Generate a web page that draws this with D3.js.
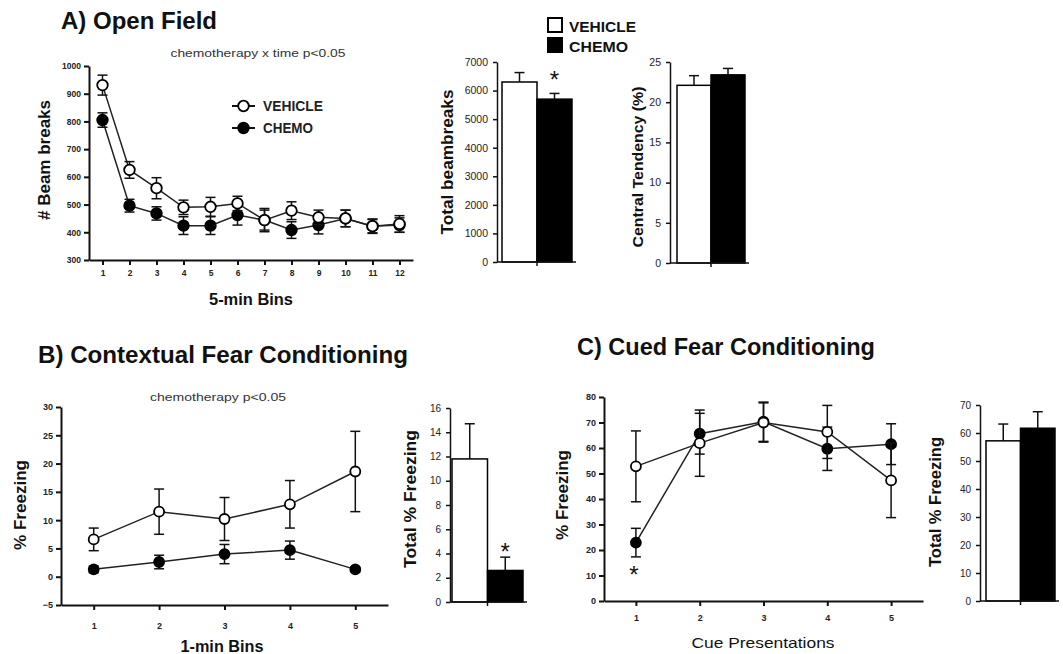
<!DOCTYPE html>
<html>
<head>
<meta charset="utf-8">
<script src="https://cdn.jsdelivr.net/npm/d3@7"></script>
<style>
    body { margin: 0; background: #fff; }
    svg { display: block; font-family: "Liberation Sans", Arial, sans-serif; }
</style>
</head>
<body>
<script>
//groups
var groups = ["VEHICLE", "CHEMO"];

//A) open field, beam breaks per 5-min bin
var ofBins = [1, 2, 3, 4, 5, 6, 7, 8, 9, 10, 11, 12];
var ofVehicle = [931, 625, 559, 490, 492, 504, 444, 478, 454, 450, 422, 430];
var ofVehicleSem = [36, 30, 38, 26, 34, 26, 42, 32, 26, 30, 26, 30];
var ofChemo = [805, 496, 468, 424, 424, 462, 444, 408, 426, 450, 422, 426];
var ofChemoSem = [26, 23, 24, 32, 32, 36, 36, 30, 32, 30, 24, 26];
var ofTicks = [300, 400, 500, 600, 700, 800, 900, 1000];

//A) totals
var totalBeam = [6300, 5700];
var totalBeamSem = [330, 200];
var totalBeamTicks = [0, 1000, 2000, 3000, 4000, 5000, 6000, 7000];
var centralTend = [22.1, 23.4];
var centralTendSem = [1.2, 0.8];
var centralTicks = [0, 5, 10, 15, 20, 25];

//B) contextual fear conditioning
var ctxBins = [1, 2, 3, 4, 5];
var ctxVehicle = [6.6, 11.5, 10.2, 12.8, 18.6];
var ctxVehicleSem = [2.0, 4.0, 3.8, 4.2, 7.1];
var ctxChemo = [1.3, 2.6, 4.0, 4.7, 1.3];
var ctxChemoSem = [0.6, 1.2, 1.7, 1.6, 0.4];
var ctxTicks = [-5, 0, 5, 10, 15, 20, 25, 30];
var ctxTotal = [11.8, 2.6];
var ctxTotalSem = [2.9, 1.1];
var ctxTotalTicks = [0, 2, 4, 6, 8, 10, 12, 14, 16];

//C) cued fear conditioning
var cueBins = [1, 2, 3, 4, 5];
var cueVehicle = [52.8, 61.9, 70.0, 66.3, 47.3];
var cueVehicleSem = [13.9, 13.0, 7.7, 10.4, 14.6];
var cueChemo = [22.9, 65.6, 70.3, 59.7, 61.5];
var cueChemoSem = [5.6, 8.0, 7.7, 8.5, 8.0];
var cueTicks = [0, 10, 20, 30, 40, 50, 60, 70, 80];
var cueTotal = [57.2, 61.7];
var cueTotalSem = [6.0, 5.9];
var cueTotalTicks = [0, 10, 20, 30, 40, 50, 60, 70];

var svg = d3.select("body").append("svg")
    .attr("width", 1063)
    .attr("height", 654);

svg.append("rect").attr("width", 1063).attr("height", 654).attr("fill", "#fff");

var fmt = d3.format("d");

//plain text helper
function label(x, y, txt, size, weight, opts){
    opts = opts || {};
    var t = svg.append("text")
        .attr("x", x).attr("y", y)
        .attr("font-size", size)
        .attr("font-weight", weight)
        .attr("fill", opts.fill || "#111")
        .attr("text-anchor", opts.anchor || "middle")
        .text(txt);
    if (opts.rotate) t.attr("transform", "rotate(-90," + x + "," + y + ")");
    if (opts.len) t.attr("textLength", opts.len).attr("lengthAdjust", "spacingAndGlyphs");
    return t;
}

function styleAxis(g, width, size, weight){
    g.attr("font-family", null).attr("font-size", size).attr("font-weight", weight);
    g.select(".domain").attr("stroke", "#111").attr("stroke-width", width);
    g.selectAll(".tick line").attr("stroke", "#111").attr("stroke-width", width);
    g.selectAll(".tick text").attr("fill", "#222");
}

//line chart with sem error bars
function lineChart(c){
    var x = d3.scaleLinear().domain(c.xDomain).range(c.xRange);
    var y = d3.scaleLinear().domain(c.yDomain).range(c.yRange);

    var ya = svg.append("g")
        .attr("transform", "translate(" + c.xRange[0] + ",0)")
        .call(d3.axisLeft(y).tickValues(c.yTicks).tickFormat(fmt)
            .tickSize(5).tickSizeOuter(0).tickPadding(3));
    styleAxis(ya, 2, c.tickSize, "bold");

    var xa = svg.append("g")
        .attr("transform", "translate(0," + c.yRange[0] + ")")
        .call(d3.axisBottom(x).tickValues(c.bins).tickFormat(fmt)
            .tickSize(5).tickSizeOuter(0).tickPadding(c.xPad));
    styleAxis(xa, 2, c.tickSize, "bold");

    c.series.forEach(function(s){
        var pts = c.bins.map(function(b, i){
            return {b: b, v: s.values[i], e: s.sem[i]};
        });
        var g = svg.append("g");

        g.append("path")
            .datum(pts)
            .attr("fill", "none")
            .attr("stroke", "#222")
            .attr("stroke-width", 1.5)
            .attr("d", d3.line().x(function(d){ return x(d.b); }).y(function(d){ return y(d.v); }));

        var eb = g.selectAll(".err")
            .data(pts)
            .enter()
            .append("g");
        eb.append("line")
            .attr("x1", function(d){ return x(d.b); })
            .attr("x2", function(d){ return x(d.b); })
            .attr("y1", function(d){ return y(d.v - d.e); })
            .attr("y2", function(d){ return y(d.v + d.e); })
            .attr("stroke", "#111").attr("stroke-width", 1.5);
        [-1, 1].forEach(function(sign){
            eb.append("line")
                .attr("x1", function(d){ return x(d.b) - 5; })
                .attr("x2", function(d){ return x(d.b) + 5; })
                .attr("y1", function(d){ return y(d.v + sign * d.e); })
                .attr("y2", function(d){ return y(d.v + sign * d.e); })
                .attr("stroke", "#111").attr("stroke-width", 1.5);
        });

        g.selectAll(".pt")
            .data(pts)
            .enter()
            .append("circle")
            .attr("cx", function(d){ return x(d.b); })
            .attr("cy", function(d){ return y(d.v); })
            .attr("r", c.r)
            .attr("fill", s.filled ? "#000" : "#fff")
            .attr("stroke", "#000")
            .attr("stroke-width", 1.8);
    });
    return {x: x, y: y};
}

//two-bar chart with one-sided sem
function barChart(c){
    var y = d3.scaleLinear().domain([0, c.max]).range(c.yRange);
    var xb = d3.scaleBand().domain(groups).range(c.barRange);

    var ya = svg.append("g")
        .attr("transform", "translate(" + c.axisX + ",0)")
        .call(d3.axisLeft(y).tickValues(c.ticks).tickFormat(fmt)
            .tickSize(4).tickSizeOuter(0).tickPadding(5));
    styleAxis(ya, 1.5, c.tickSize, "normal");

    svg.selectAll(null)
        .data(groups)
        .enter()
        .append("line")
        .attr("x1", function(d){ return xb(d) + xb.bandwidth() / 2; })
        .attr("x2", function(d){ return xb(d) + xb.bandwidth() / 2; })
        .attr("y1", function(d, i){ return y(c.values[i]); })
        .attr("y2", function(d, i){ return y(c.values[i] + c.sem[i]); })
        .attr("stroke", "#111").attr("stroke-width", 1.5);
    svg.selectAll(null)
        .data(groups)
        .enter()
        .append("line")
        .attr("x1", function(d){ return xb(d) + xb.bandwidth() / 2 - 5; })
        .attr("x2", function(d){ return xb(d) + xb.bandwidth() / 2 + 5; })
        .attr("y1", function(d, i){ return y(c.values[i] + c.sem[i]); })
        .attr("y2", function(d, i){ return y(c.values[i] + c.sem[i]); })
        .attr("stroke", "#111").attr("stroke-width", 1.5);

    svg.selectAll(null)
        .data(groups)
        .enter()
        .append("rect")
        .attr("x", function(d){ return xb(d); })
        .attr("width", xb.bandwidth())
        .attr("y", function(d, i){ return y(c.values[i]); })
        .attr("height", function(d, i){ return y(0) - y(c.values[i]); })
        .attr("fill", function(d, i){ return i ? "#000" : "#fff"; })
        .attr("stroke", "#000")
        .attr("stroke-width", 1.5);

    //baseline and divider tick
    svg.append("line")
        .attr("x1", c.axisX).attr("x2", c.barRange[1] + 4)
        .attr("y1", y(0)).attr("y2", y(0))
        .attr("stroke", "#111").attr("stroke-width", 1.5);
    svg.append("line")
        .attr("x1", xb("CHEMO")).attr("x2", xb("CHEMO"))
        .attr("y1", y(0)).attr("y2", y(0) + 4)
        .attr("stroke", "#111").attr("stroke-width", 1.5);

    if (c.star) {
        var i = groups.indexOf(c.star);
        label(xb(c.star) + xb.bandwidth() / 2, y(c.values[i] + c.sem[i]) - c.starGap + 14, "*", 24, "normal");
    }
    return {x: xb, y: y};
}

// ---------- A) Open Field ----------
label(61, 29, "A) Open Field", 23, "bold", {anchor: "start", len: 156});
label(258, 57, "chemotherapy x time p<0.05", 11.5, "normal", {len: 175, fill: "#333"});

lineChart({
    bins: ofBins, xDomain: [0.5, 12.5], xRange: [89, 413],
    yDomain: [300, 1000], yRange: [260, 66], yTicks: ofTicks,
    tickSize: 8.5, xPad: 5, r: 5.3,
    series: [
        {values: ofChemo, sem: ofChemoSem, filled: true},
        {values: ofVehicle, sem: ofVehicleSem, filled: false}
    ]
});
label(50, 160, "# Beam breaks", 16, "bold", {rotate: true, len: 120});
label(251, 305, "5-min Bins", 16, "bold", {len: 84});

//line legend
[{name: "VEHICLE", filled: false, y: 106}, {name: "CHEMO", filled: true, y: 128}].forEach(function(d){
    svg.append("line").attr("x1", 232).attr("x2", 255).attr("y1", d.y).attr("y2", d.y)
        .attr("stroke", "#111").attr("stroke-width", 2);
    svg.append("circle").attr("cx", 243.5).attr("cy", d.y).attr("r", 5.3)
        .attr("fill", d.filled ? "#000" : "#fff").attr("stroke", "#000").attr("stroke-width", 1.8);
    label(263, d.y + 5, d.name, 14, "bold", {anchor: "start", len: d.filled ? 50 : 60, fill: "#222"});
});

//bar legend
[{name: "VEHICLE", fill: "#fff", y: 18}, {name: "CHEMO", fill: "#000", y: 38}].forEach(function(d){
    svg.append("rect").attr("x", 548).attr("y", d.y).attr("width", 14).attr("height", 14)
        .attr("fill", d.fill).attr("stroke", "#000").attr("stroke-width", 2);
    label(569, d.y + 14, d.name, 15.5, "bold", {anchor: "start", len: d.fill === "#000" ? 59 : 67});
});

barChart({
    values: totalBeam, sem: totalBeamSem, max: 7000, ticks: totalBeamTicks,
    axisX: 497, barRange: [502, 572], yRange: [262, 62], tickSize: 10.5,
    star: "CHEMO", starGap: 19
});
label(453, 162, "Total beambreaks", 16, "bold", {rotate: true, len: 145});

barChart({
    values: centralTend, sem: centralTendSem, max: 25, ticks: centralTicks,
    axisX: 670, barRange: [677, 745], yRange: [263, 62], tickSize: 10.5
});
label(643, 167, "Central Tendency (%)", 15, "bold", {rotate: true, len: 161});

// ---------- B) Contextual Fear Conditioning ----------
label(38, 363, "B) Contextual Fear Conditioning", 24, "bold", {anchor: "start", len: 370});
label(218, 401, "chemotherapy p<0.05", 11.5, "normal", {len: 136, fill: "#333"});

lineChart({
    bins: ctxBins, xDomain: [0.5, 5.5], xRange: [61, 388],
    yDomain: [-5, 30], yRange: [605, 407], yTicks: ctxTicks,
    tickSize: 9, xPad: 13, r: 5,
    series: [
        {values: ctxChemo, sem: ctxChemoSem, filled: true},
        {values: ctxVehicle, sem: ctxVehicleSem, filled: false}
    ]
});
label(26, 505, "% Freezing", 17, "bold", {rotate: true, len: 90});
label(222, 652, "1-min Bins", 16, "bold", {len: 83});

barChart({
    values: ctxTotal, sem: ctxTotalSem, max: 16, ticks: ctxTotalTicks,
    axisX: 450, barRange: [452, 523], yRange: [602, 408], tickSize: 10,
    star: "CHEMO", starGap: 11
});
label(416, 499, "Total % Freezing", 16, "bold", {rotate: true, len: 138});

// ---------- C) Cued Fear Conditioning ----------
label(577, 355, "C) Cued Fear Conditioning", 24, "bold", {anchor: "start", len: 298});

var cue = lineChart({
    bins: cueBins, xDomain: [0.5, 5.5], xRange: [604, 923],
    yDomain: [0, 80], yRange: [601, 397], yTicks: cueTicks,
    tickSize: 9, xPad: 9, r: 5,
    series: [
        {values: cueChemo, sem: cueChemoSem, filled: true},
        {values: cueVehicle, sem: cueVehicleSem, filled: false}
    ]
});
//significance under chemo at first cue
label(cue.x(cueBins[0]) - 2, cue.y(cueChemo[0] - cueChemoSem[0]) + 12 + 14, "*", 24, "normal");
label(568, 495, "% Freezing", 17, "bold", {rotate: true, len: 90});
label(763, 648, "Cue Presentations", 15, "normal", {len: 143, fill: "#111"});

barChart({
    values: cueTotal, sem: cueTotalSem, max: 70, ticks: cueTotalTicks,
    axisX: 980, barRange: [986, 1055], yRange: [601, 405], tickSize: 10
});
label(941, 502, "Total % Freezing", 16, "bold", {rotate: true, len: 130});
</script>
</body>
</html>
